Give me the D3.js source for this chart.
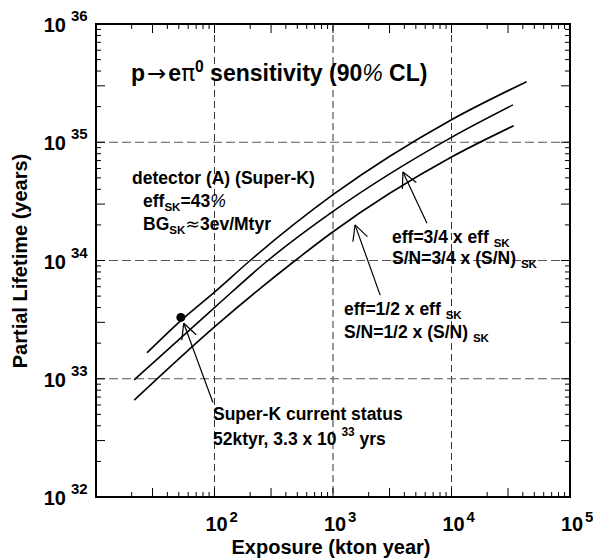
<!DOCTYPE html>
<html>
<head>
<meta charset="utf-8">
<script src="https://cdn.jsdelivr.net/npm/d3@7"></script>
<style>
  body { margin: 0; background: #fff; }
  svg text { font-family: Arial, "Liberation Sans", sans-serif; font-weight: bold; fill: #000; }
</style>
</head>
<body>
<svg id="chart" width="593" height="560"></svg>
<script>
// exposure (kton year) and partial lifetime (years)
const fullX = [27, 52, 100, 200, 1000, 10000, 43000];
const fullY = [1.66e33, 3.1e33, 5.4e33, 1e34, 3.6e34, 1.55e35, 3.25e35];
const threeQuarterX = [21, 100, 282, 1000, 10000, 33000];
const threeQuarterY = [9.8e32, 4.0e33, 1e34, 2.6e34, 1.1e35, 2.07e35];
const halfX = [21, 100, 480, 1000, 10000, 33500];
const halfY = [6.6e32, 2.75e33, 1e34, 1.75e34, 7.5e34, 1.38e35];

// Super-K current status
const statusX = [52];
const statusY = [3.3e33];

// tick exponents
const xTickExp = [2, 3, 4, 5];
const yTickExp = [32, 33, 34, 35, 36];
const gridXExp = [2, 3, 4];
const gridYExp = [33, 34, 35];

// arrows: [tailX, tailY, tipX, tipY] in data units
const arrows = [
  [97, 6.3e32, 55, 2.95e33],
  [6210, 2.07e34, 3890, 5.6e34],
  [2500, 5.1e33, 1535, 2.0e34]
];

const svg = d3.select('#chart');
const x = d3.scaleLog().domain([10, 1e5]).range([96, 570]);
const y = d3.scaleLog().domain([1e32, 1e36]).range([497, 24]);

// grid lines
svg.selectAll('.gx').data(gridXExp).enter().append('line')
  .attr('x1', d => x(Math.pow(10, d))).attr('x2', d => x(Math.pow(10, d)))
  .attr('y1', y(1e36)).attr('y2', y(1e32))
  .attr('stroke', '#333').attr('stroke-width', 1).attr('stroke-dasharray', '7,4');
svg.selectAll('.gy').data(gridYExp).enter().append('line')
  .attr('y1', d => y(Math.pow(10, d))).attr('y2', d => y(Math.pow(10, d)))
  .attr('x1', x(10)).attr('x2', x(1e5))
  .attr('stroke', '#555').attr('stroke-width', 1).attr('stroke-dasharray', '9,4');

// minor ticks on all four sides
const xTicks = [];
for (let e = 1; e < 5; e++) for (let k = 1; k <= 9; k++) xTicks.push(k * Math.pow(10, e));
const yTicks = [];
for (let e = 32; e < 36; e++) for (let k = 1; k <= 9; k++) yTicks.push(k * Math.pow(10, e));
const tickLen = v => {
  const m = Math.round(v / Math.pow(10, Math.floor(Math.log10(v) + 1e-9)));
  return (m === 3 || m === 1) ? 9 : 5;
};
const ticks = svg.append('g').attr('stroke', '#000').attr('stroke-width', 1);
xTicks.forEach(v => {
  ticks.append('line').attr('x1', x(v)).attr('x2', x(v)).attr('y1', y(1e32)).attr('y2', y(1e32) - tickLen(v));
  ticks.append('line').attr('x1', x(v)).attr('x2', x(v)).attr('y1', y(1e36)).attr('y2', y(1e36) + tickLen(v));
});
yTicks.forEach(v => {
  ticks.append('line').attr('y1', y(v)).attr('y2', y(v)).attr('x1', x(10)).attr('x2', x(10) + tickLen(v));
  ticks.append('line').attr('y1', y(v)).attr('y2', y(v)).attr('x1', x(1e5)).attr('x2', x(1e5) - tickLen(v));
});

// frame
svg.append('rect')
  .attr('x', x(10)).attr('y', y(1e36))
  .attr('width', x(1e5) - x(10)).attr('height', y(1e32) - y(1e36))
  .attr('fill', 'none').attr('stroke', '#000').attr('stroke-width', 2);

// curves
const line = d3.line().x(d => x(d[0])).y(d => y(d[1])).curve(d3.curveMonotoneX);
[[fullX, fullY], [threeQuarterX, threeQuarterY], [halfX, halfY]].forEach(([xs, ys]) => {
  svg.append('path')
    .datum(xs.map((v, i) => [v, ys[i]]))
    .attr('d', line)
    .attr('fill', 'none').attr('stroke', '#000').attr('stroke-width', 1.6);
});

// status point
svg.selectAll('.pt').data(statusX).enter().append('circle')
  .attr('cx', d => x(d)).attr('cy', (d, i) => y(statusY[i])).attr('r', 4.5).attr('fill', '#000');

// arrows (open heads)
arrows.forEach(a => {
  const x0 = x(a[0]), y0 = y(a[1]), x1 = x(a[2]), y1 = y(a[3]);
  const g = svg.append('g').attr('stroke', '#000').attr('stroke-width', 1.2).attr('fill', 'none');
  g.append('line').attr('x1', x0).attr('y1', y0).attr('x2', x1).attr('y2', y1);
  const ang = Math.atan2(y0 - y1, x0 - x1);
  [-0.47, 0.47].forEach(da => {
    g.append('line').attr('x1', x1).attr('y1', y1)
      .attr('x2', x1 + 17 * Math.cos(ang + da)).attr('y2', y1 + 17 * Math.sin(ang + da));
  });
});

// tick labels
xTickExp.forEach(e => {
  const px = x(Math.pow(10, e));
  svg.append('text').attr('x', px + 2).attr('y', 531).attr('text-anchor', 'middle')
    .style('font-size', '20px').text('10');
  svg.append('text').attr('x', px + 15).attr('y', 522).style('font-size', '15px').text(e);
});
yTickExp.forEach(e => {
  const py = y(Math.pow(10, e));
  svg.append('text').attr('x', 66).attr('y', py + 8).attr('text-anchor', 'end')
    .style('font-size', '20px').text('10');
  svg.append('text').attr('x', 71).attr('y', py - 3).style('font-size', '15px').text(e);
});

// axis titles
svg.append('text').attr('x', 331).attr('y', 554).attr('text-anchor', 'middle')
  .style('font-size', '20px').text('Exposure (kton year)');
svg.append('text').attr('transform', 'translate(27,261) rotate(-90)').attr('text-anchor', 'middle')
  .style('font-size', '20px').text('Partial Lifetime (years)');

// rich text helper: parts = [text, kind] with kind: '', 'sub', 'sup', 'sym', 'pct'
function rich(px, py, size, parts) {
  const t = svg.append('text').attr('x', px).attr('y', py).style('font-size', size + 'px');
  let shift = 0;
  parts.forEach(p => {
    const s = t.append('tspan').text(p[0]);
    const kind = p[1] || '';
    if (kind === 'sub') {
      s.attr('dy', 4 - shift).style('font-size', (size * 0.66) + 'px'); shift = 4;
    } else if (kind === 'sup') {
      s.attr('dy', -9 - shift).style('font-size', (size * 0.68) + 'px'); shift = -9;
    } else {
      if (shift !== 0) { s.attr('dy', -shift); shift = 0; }
      if (kind === 'sym') s.style('font-weight', 'normal').style('font-family', '"DejaVu Sans", sans-serif');
      if (kind === 'pct') s.style('font-weight', 'normal').style('font-style', 'italic');
    }
  });
  return t;
}

const title = rich(131, 81, 23, [['p'], ['\u2192', 'sym'], ['e'], ['\u03c0', 'sym'], ['0', 'sup'], [' sensitivity (90'], ['%', 'pct'], [' CL)']]);
title.selectAll('tspan').filter((d, i) => i === 1).attr('dx', 2);
title.selectAll('tspan').filter((d, i) => i === 2).attr('dx', 2);
rich(132, 184, 17.5, [['detector (A) (Super-K)']]);
rich(143, 207, 17.5, [['eff'], ['SK', 'sub'], ['=43'], ['%', 'pct']]);
rich(143, 230, 17.5, [['BG'], ['SK', 'sub'], ['\u2248', 'sym'], ['3ev/Mtyr']]);
rich(392, 243, 17.5, [['eff=3/4 x eff '], ['SK', 'sub']]);
rich(392, 264, 17.5, [['S/N=3/4 x (S/N) '], ['SK', 'sub']]);
rich(344, 315, 17.5, [['eff=1/2 x eff '], ['SK', 'sub']]);
rich(344, 338, 17.5, [['S/N=1/2 x (S/N) '], ['SK', 'sub']]);
rich(213, 420, 17.5, [['Super-K current status']]);
rich(213, 445, 17.5, [['52ktyr, 3.3 x 10 '], ['33', 'sup'], [' yrs']]);
</script>
</body>
</html>
